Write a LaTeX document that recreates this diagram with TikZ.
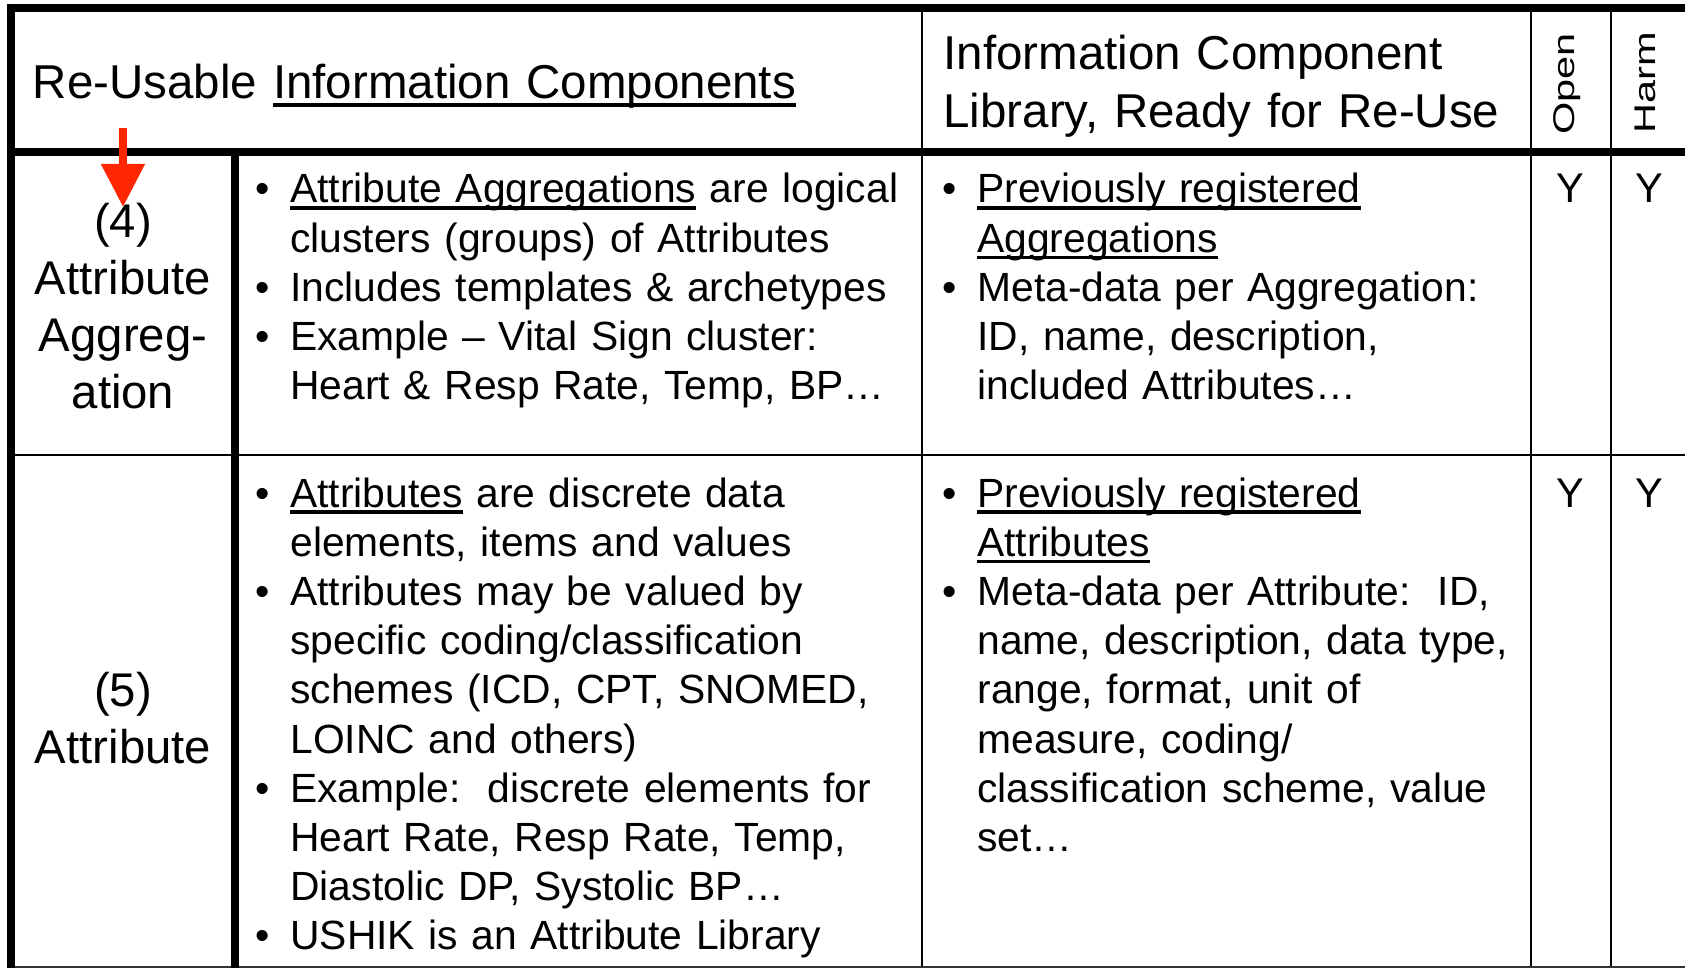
\documentclass[tikz,border=0pt]{standalone}
\usepackage{fontspec}
\setmainfont{Liberation Sans}
\usetikzlibrary{arrows.meta}
\definecolor{arrowred}{RGB}{255,38,0}
\newcommand{\ulword}[1]{\leavevmode\setbox0\hbox{#1}\rlap{\vrule width \wd0 height -0.085em depth 0.16em}\box0\relax}
\newcommand{\itembullet}{\leavevmode\llap{\textbullet\hspace{10.4pt}}}
\frenchspacing

\begin{document}
\begin{tikzpicture}[x=0.5pt, y=-0.5pt,
    thickrule/.style={line width=3.75pt},
    thinrule/.style={line width=1.35pt},
    headtext/.style={anchor=base west, inner sep=0pt, text width=400pt, align=left, font=\fontsize{23.75}{29}\selectfont},
    nametext/.style={anchor=base, inner sep=0pt, text width=105pt, align=center, font=\fontsize{23.65}{28.5}\selectfont},
    bodytext/.style={anchor=base west, inner sep=0pt, text width=330pt, align=left, font=\fontsize{20.4}{24.6}\selectfont},
    vertlabel/.style={anchor=base west, inner sep=0pt, rotate=90, font=\fontsize{20.75}{24.6}\selectfont},
    yesmark/.style={anchor=base, inner sep=0pt, font=\fontsize{20.75}{24.6}\selectfont}]
    \useasboundingbox (0, 0) rectangle (1685, 968);
    \draw[thinrule] (922, 8) -- (922, 968);
    \draw[thinrule] (1531, 8) -- (1531, 968);
    \draw[thinrule] (1611, 8) -- (1611, 968);
    \draw[thinrule] (11, 455) -- (1685, 455);
    \draw[thinrule, black!80] (11, 967) -- (1685, 967);
    \draw[thickrule] (1685, 8) -- (11, 8) -- (11, 968);
    \draw[thickrule] (11, 152) -- (1685, 152);
    \draw[thickrule] (235, 152) -- (235, 968);
    \node[headtext] (title) at (32.5, 99) {Re-Usable \ulword{Information Components}};
    \node[headtext] (libhead) at (943, 70) {Information Component\\Library, Ready for Re-Use};
    \node[vertlabel] (open) at (1574, 135) {\scalebox{1}[0.72]{Open}};
    \node[vertlabel] (harm) at (1655, 134) {\scalebox{1}[0.72]{Harm}};
    \node[nametext] (aggname) at (123, 237) {(4)\\Attribute\\Aggreg-\\ation};
    \node[nametext] (attname) at (123, 706) {(5)\\Attribute};
    \node[bodytext] (aggdesc) at (290, 203) {\itembullet\ulword{Attribute Aggregations} are logical\\clusters (groups) of Attributes\\\itembullet Includes templates \& archetypes\\\itembullet Example – Vital Sign cluster:\\Heart \& Resp Rate, Temp, BP…};
    \node[bodytext, text width=300pt] (agglib) at (977, 203) {\itembullet\ulword{Previously registered}\\\ulword{Aggregations}\\\itembullet Meta-data per Aggregation:\\ID, name, description,\\included Attributes…};
    \node[bodytext] (attdesc) at (290, 507) {\itembullet\ulword{Attributes} are discrete data\\elements, items and values\\\itembullet Attributes may be valued by\\specific coding/classification\\schemes (ICD, CPT, SNOMED,\\LOINC and others)\\\itembullet Example:\ \ discrete elements for\\Heart Rate, Resp Rate, Temp,\\Diastolic DP, Systolic BP…\\\itembullet USHIK is an Attribute Library};
    \node[bodytext, text width=300pt] (attlib) at (977, 507) {\itembullet\ulword{Previously registered}\\\ulword{Attributes}\\\itembullet Meta-data per Attribute:\ \ ID,\\name, description, data type,\\range, format, unit of\\measure, coding/\\classification scheme, value\\set…};
    \node[yesmark] (aggopen) at (1570, 203) {Y};
    \node[yesmark] (aggharm) at (1649, 203) {Y};
    \node[yesmark] (attopen) at (1570, 507) {Y};
    \node[yesmark] (attharm) at (1649, 507) {Y};
    \coordinate (arrowtop) at (123, 128);
    \coordinate (arrowtip) at (123, 207);
    \draw[arrowred, line width=4pt, -{Triangle[width=21pt, length=21.5pt]}] (arrowtop) -- (arrowtip);
\end{tikzpicture}
\end{document}
